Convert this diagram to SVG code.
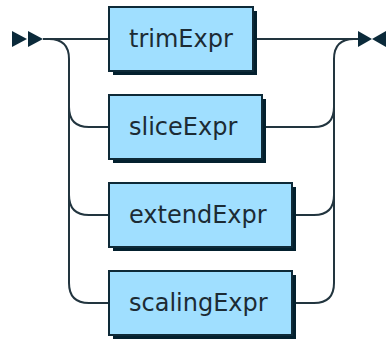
<svg xmlns="http://www.w3.org/2000/svg" width="386" height="340" viewBox="0 0 386 340">
<style>
.line{fill:none;stroke:#22353f;stroke-width:2}
.box{fill:#a0dfff;stroke:#0e2a38;stroke-width:2}
.shadow{fill:#03202e}
.mark{fill:#0b2a3a}
text{font-family:"DejaVu Sans",Verdana,sans-serif;font-size:24px;fill:#1c2b34}
</style>
<rect width="386" height="340" fill="#ffffff"/>
<g id="connectors">
<polygon class="mark" points="27,39 12,31 12,47"/>
<polygon class="mark" points="43,39 28,31 28,47"/>
<path class="line" d="M43 39 H109"/>
<path class="line" d="M49 39 Q69 39 69 59 V283 Q69 303 89 303 H109"/>
<path class="line" d="M69 107 Q69 127 89 127 H109"/>
<path class="line" d="M69 195 Q69 215 89 215 H109"/>
<path class="line" d="M253 39 H358"/>
<path class="line" d="M262 127 H314 Q334 127 334 107"/>
<path class="line" d="M292 215 H314 Q334 215 334 195"/>
<path class="line" d="M292 303 H314 Q334 303 334 283 V59 Q334 39 354 39"/>
<polygon class="mark" points="358,31 358,47 372,39"/>
<polygon class="mark" points="386,31 386,47 372,39"/>
</g>
<g id="trimExpr">
<rect class="shadow" x="113" y="11" width="144" height="64"/>
<rect class="box" x="109" y="7" width="144" height="64"/>
<text x="129" y="47">trimExpr</text>
</g>
<g id="sliceExpr">
<rect class="shadow" x="113" y="99" width="153" height="64"/>
<rect class="box" x="109" y="95" width="153" height="64"/>
<text x="129" y="135">sliceExpr</text>
</g>
<g id="extendExpr">
<rect class="shadow" x="113" y="187" width="183" height="64"/>
<rect class="box" x="109" y="183" width="183" height="64"/>
<text x="129" y="223">extendExpr</text>
</g>
<g id="scalingExpr">
<rect class="shadow" x="113" y="275" width="183" height="64"/>
<rect class="box" x="109" y="271" width="183" height="64"/>
<text x="129" y="311">scalingExpr</text>
</g>
</svg>
